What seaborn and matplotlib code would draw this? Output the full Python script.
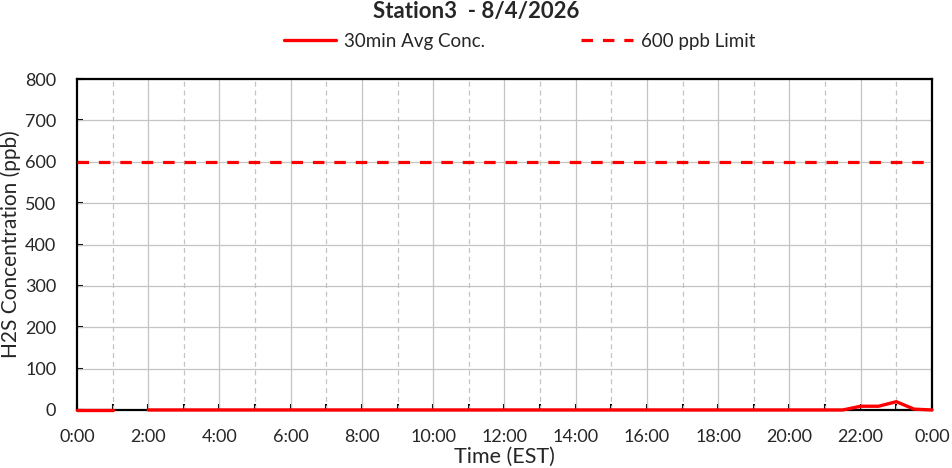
import numpy as np
import pandas as pd
import seaborn as sns
import matplotlib.pyplot as plt
import matplotlib.lines as mlines

# half-hourly readings for the day, 1:30 missing
hours = np.arange(0, 24.5, 0.5)
conc = [0, 0, 0, np.nan, 0, 0, 0, 0, 0, 0,
        0, 0, 0, 0, 0, 0, 0, 0, 0, 0,
        0, 0, 0, 0, 0, 0, 0, 0, 0, 0,
        0, 0, 0, 0, 0, 0, 0, 0, 0, 0,
        0, 0, 0, 0, 9, 9, 20, 2, 0]
limit_ppb = 600
tick_hours = list(range(0, 25, 2))
tick_labels = ['0:00', '2:00', '4:00', '6:00', '8:00', '10:00', '12:00',
               '14:00', '16:00', '18:00', '20:00', '22:00', '0:00']
y_ticks = [0, 100, 200, 300, 400, 500, 600, 700, 800]

df = pd.DataFrame({'Hour': hours, 'Conc': conc})
# split at missing values so the line breaks
df['seg'] = df['Conc'].isna().cumsum()
df = df.dropna()

sns.set_style('white')
plt.rcParams['font.family'] = ['Lato', 'DejaVu Sans']

fig = plt.figure(figsize=(9.52, 4.68), dpi=100)
ax = fig.add_axes([0.0809, 0.124, 0.898, 0.707])

grid_c = '#c4c4c4'
for y in y_ticks:
    ax.axhline(y, color=grid_c, lw=0.9, zorder=1)
for h in range(1, 24):
    ax.axvline(h, color=grid_c, lw=0.9, ls='-' if h % 2 == 0 else (0, (4, 3)), zorder=1)

red = '#ff0000'
dash = (0, (3.6, 3.1))
ax.axhline(limit_ppb, color=red, lw=2.3, ls=dash, zorder=3)
for seg, part in df.groupby('seg'):
    sns.lineplot(data=part, x='Hour', y='Conc', color=red, lw=2.4, ax=ax, zorder=4, clip_on=False)

ax.set_xlim(0, 24)
ax.set_ylim(0, 800)
ax.set_xticks(tick_hours)
ax.set_xticklabels(tick_labels, fontsize=13)
ax.set_xticks(range(1, 24, 2), minor=True)
ax.set_yticks(y_ticks)
ax.set_yticklabels([str(v) for v in y_ticks], fontsize=13)
ax.tick_params(axis='both', which='both', direction='in', length=4, width=1.5,
               color='black', top=False, right=False, bottom=True, left=True)
ax.tick_params(axis='x', which='major', pad=14)
ax.tick_params(axis='y', which='major', pad=15)
for s in ax.spines.values():
    s.set_color('black')
    s.set_linewidth(1.6)

ax.set_xlabel('Time (EST)', fontsize=15.5, va='center')
ax.xaxis.set_label_coords(0.5, -0.143)
ax.set_ylabel('H2S Concentration (ppb)', fontsize=15, va='center')
ax.yaxis.set_label_coords(-0.078, 0.5)

fig.text(0.5, 0.975, 'Station3  - 8/4/2026', ha='center', va='center',
         fontsize=16, fontweight='bold')

avg_line = mlines.Line2D([], [], color=red, lw=2.4, label='30min Avg Conc.')
lim_line = mlines.Line2D([], [], color=red, lw=2.3, ls=dash, label='600 ppb Limit')
fig.legend(handles=[avg_line, lim_line], loc='center', bbox_to_anchor=(0.546, 0.912),
           ncol=2, frameon=False, fontsize=13.5, handlelength=2.8,
           handletextpad=0.43, columnspacing=5.1)

fig.savefig('out.png', dpi=100)
